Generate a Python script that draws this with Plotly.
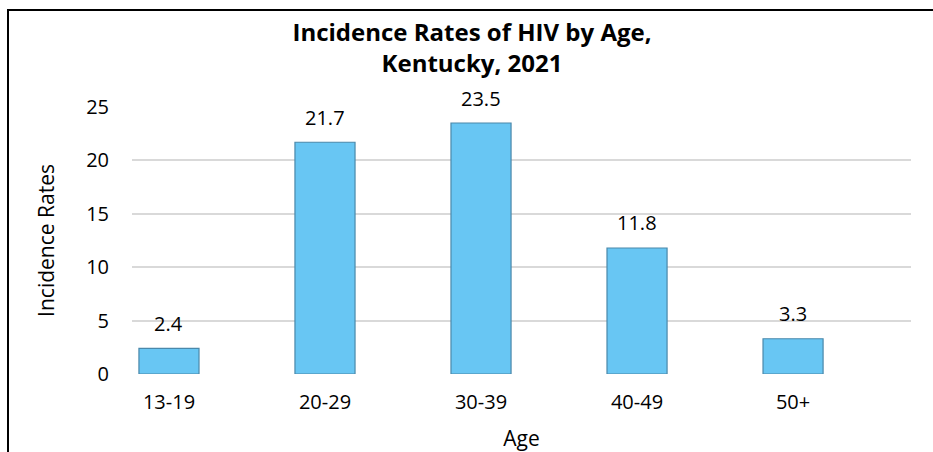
import plotly.graph_objects as go

categories = ["13-19", "20-29", "30-39", "40-49", "50+"]
rates = [2.4, 21.7, 23.5, 11.8, 3.3]
y_ticks = [0, 5, 10, 15, 20, 25]

FONT = "Open Sans"
W, H = 933, 452
L, R, T, B = 132, 22, 107, 78
PW, PH = W - L - R, H - T - B

fig = go.Figure()
fig.add_trace(go.Bar(
    x=categories, y=rates, width=0.385,
    marker=dict(color="#68C6F3", line=dict(color="#4A88AA", width=1.2)),
    hoverinfo="skip",
))
for c, v in zip(categories, rates):
    fig.add_annotation(x=c, y=v, text=f"{v}", showarrow=False, yshift=25,
                       font=dict(family=FONT, size=20, color="#000000"))

def px_x(p):
    return (p - L) / PW

def px_y(p):
    return (H - B - p) / PH

fig.update_layout(
    width=W, height=H,
    margin=dict(l=L, r=R, t=T, b=B, autoexpand=False),
    paper_bgcolor="white", plot_bgcolor="white",
    showlegend=False,
    title=dict(text="<b>Incidence Rates of HIV by Age,<br>Kentucky, 2021</b>",
               x=(472) / W, xanchor="center", y=1 - 41 / H, yanchor="top",
               font=dict(family=FONT, size=24, color="#000000")),
    xaxis=dict(type="category", range=[-0.237, 4.756], showgrid=False, showline=False,
               automargin=False,
               ticks="", ticklabelstandoff=14, tickfont=dict(family=FONT, size=20, color="#000"),
               title=dict(text="Age", font=dict(family=FONT, size=21, color="#000"), standoff=24)),
    yaxis=dict(range=[0, 25], tickvals=y_ticks, showgrid=True, gridcolor="#D9D9D9", gridwidth=1.5,
               automargin=False,
               zeroline=False, showline=False, ticks="", ticklabelstandoff=22,
               tickfont=dict(family=FONT, size=20, color="#000"),
               title=dict(text="Incidence Rates", font=dict(family=FONT, size=21, color="#000"), standoff=25)),
    shapes=[
        dict(type="line", xref="paper", yref="paper", x0=px_x(7), x1=px_x(W + 5), y0=px_y(10), y1=px_y(10),
             line=dict(color="#000", width=2)),
        dict(type="line", xref="paper", yref="paper", x0=px_x(8), x1=px_x(8), y0=px_y(H + 5), y1=px_y(10),
             line=dict(color="#000", width=2)),
    ],
)
fig.write_html("out.html", config={"displayModeBar": False},
               post_script="document.body.style.margin='0';")
